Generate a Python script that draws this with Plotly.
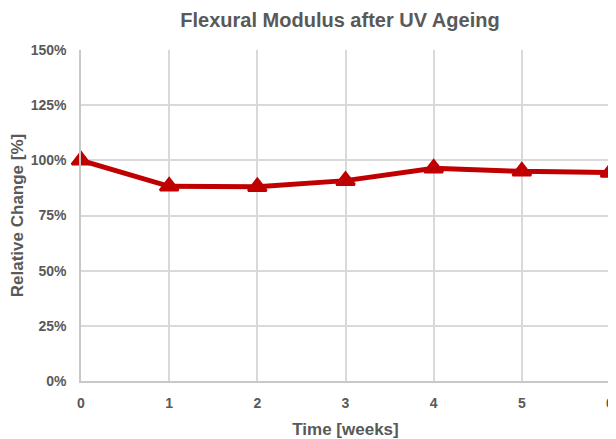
import plotly.graph_objects as go

weeks = [0, 1, 2, 3, 4, 5, 6]
relative_change = [100.0, 88.2, 88.0, 90.8, 96.4, 95.0, 94.5]
error = [1.5, 1.2, 1.2, 1.3, 1.6, 1.4, 1.5]
y_ticks = [0, 25, 50, 75, 100, 125, 150]
y_tick_labels = ["0%", "25%", "50%", "75%", "100%", "125%", "150%"]

grey = "#595959"
grid = "#D9D9D9"
axis_grey = "#C8C8C8"
red = "#C00000"

W, H = 608, 431  # page body has an 8px margin

fig = go.Figure()
fig.add_trace(go.Scatter(
    x=weeks, y=relative_change, mode="lines+markers",
    line=dict(color=red, width=5),
    marker=dict(symbol="triangle-up", size=16, color=red, line=dict(color=red, width=2.5)),
    error_y=dict(type="data", array=error, color="#7F7F7F", thickness=1, width=5),
    cliponaxis=False, showlegend=False,
))

font_family = "Liberation Sans, Arial, sans-serif"
fig.update_layout(
    width=W, height=H,
    margin=dict(l=73, r=6, t=42, b=58),
    paper_bgcolor="white", plot_bgcolor="white",
    title=dict(text="<b>Flexural Modulus after UV Ageing</b>", x=332 / W, xanchor="center",
               y=1 - 12 / H, yanchor="middle",
               font=dict(family=font_family, size=20, color=grey)),
    font=dict(family=font_family, color=grey),
)
fig.update_xaxes(
    range=[0, 6], tickmode="array", tickvals=weeks,
    ticktext=[f"<b>{w}</b>" for w in weeks],
    showgrid=True, gridcolor=grid, gridwidth=1.5,
    showline=True, linecolor=axis_grey, linewidth=1.5, mirror=False,
    zeroline=False, automargin=False,
    ticks="outside", ticklen=8, tickcolor="rgba(0,0,0,0)",
    tickfont=dict(family=font_family, size=14, color=grey),
    title=dict(text="<b>Time [weeks]</b>", font=dict(family=font_family, size=17, color=grey), standoff=15),
)
fig.update_yaxes(
    range=[0, 150], tickmode="array", tickvals=y_ticks,
    ticktext=[f"<b>{t}</b>" for t in y_tick_labels],
    showgrid=True, gridcolor=grid, gridwidth=1.5,
    showline=True, linecolor=axis_grey, linewidth=1.5,
    zeroline=False, automargin=False,
    ticks="outside", ticklen=10, tickcolor="rgba(0,0,0,0)",
    tickfont=dict(family=font_family, size=14, color=grey),
    title=dict(text="<b>Relative Change [%]</b>", font=dict(family=font_family, size=17, color=grey), standoff=14),
)

fig.write_html("out.html")
